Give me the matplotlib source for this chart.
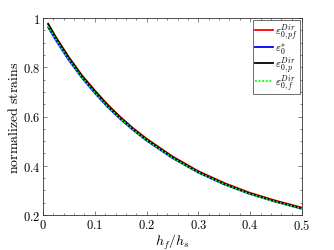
import matplotlib
matplotlib.use("Agg")
import matplotlib.pyplot as plt
from matplotlib.ticker import MultipleLocator

plt.rcParams['mathtext.fontset'] = 'cm'
plt.rcParams['font.family'] = 'serif'
plt.rcParams['font.serif'] = ['DejaVu Serif']

hf_hs = [0.01, 0.025, 0.05, 0.075, 0.10, 0.125, 0.15, 0.175, 0.20, 0.25, 0.30, 0.35, 0.40, 0.45, 0.50]
eps_p = [0.975, 0.92, 0.838, 0.765, 0.703, 0.645, 0.594, 0.548, 0.507, 0.435, 0.375, 0.327, 0.287, 0.255, 0.227]
eps_pf = [0.977, 0.922, 0.841, 0.768, 0.706, 0.648, 0.597, 0.551, 0.510, 0.438, 0.378, 0.330, 0.290, 0.258, 0.230]
eps_star = [0.962, 0.909, 0.828, 0.757, 0.695, 0.638, 0.588, 0.543, 0.502, 0.431, 0.372, 0.324, 0.285, 0.253, 0.225]
eps_f = [0.966, 0.912, 0.831, 0.759, 0.697, 0.640, 0.590, 0.545, 0.504, 0.432, 0.373, 0.325, 0.285, 0.253, 0.225]

labels = [r'$\varepsilon_{0,pf}^{Dir}$', r'$\varepsilon_{0}^{*}$',
          r'$\varepsilon_{0,p}^{Dir}$', r'$\varepsilon_{0,f}^{Dir}$']
xticks = [0, 0.1, 0.2, 0.3, 0.4, 0.5]
xticklabels = ['$0$', '$0.1$', '$0.2$', '$0.3$', '$0.4$', '$0.5$']
yticks = [0.2, 0.4, 0.6, 0.8, 1.0]
yticklabels = ['$0.2$', '$0.4$', '$0.6$', '$0.8$', '$1$']

fig = plt.figure(figsize=(3.34, 2.51), dpi=100)
ax = fig.add_axes([43/334, 1-216/251, (302-43)/334, (216-19)/251])

ax.plot(hf_hs, eps_pf, color='#ff0000', lw=1.3, label=labels[0])
ax.plot(hf_hs, eps_star, color='#0000ff', lw=1.3, label=labels[1])
ax.plot(hf_hs, eps_p, color='black', lw=1.3, label=labels[2])
ax.plot(hf_hs, eps_f, color='#00ff00', lw=1.3, ls=(0, (1, 1)), label=labels[3])

ax.set_xlim(0, 0.5)
ax.set_ylim(0.2, 1.0)
ax.set_xticks(xticks)
ax.set_xticklabels(xticklabels, fontsize=9)
ax.set_yticks(yticks)
ax.set_yticklabels(yticklabels, fontsize=9)
ax.xaxis.set_minor_locator(MultipleLocator(0.02))
ax.yaxis.set_minor_locator(MultipleLocator(0.05))
ax.tick_params(which='both', direction='in', top=True, right=True, width=0.5, color='#555555')
ax.tick_params(which='major', length=3)
ax.tick_params(axis='x', which='major', pad=2)
ax.tick_params(axis='y', which='major', pad=2)
ax.tick_params(which='minor', length=1.5)
for s in ax.spines.values():
    s.set_linewidth(0.6)
    s.set_color('#333333')

ax.set_xlabel(r'$h_f/h_s$', fontsize=10, labelpad=0)
ax.set_ylabel(r'$\mathrm{normalized\ strains}$', fontsize=10, labelpad=1)

leg = ax.legend(loc='upper right', fontsize=8, handlelength=1.6, handletextpad=0.25,
                borderpad=0.15, labelspacing=-0.1, fancybox=False, framealpha=1,
                edgecolor='#555555', borderaxespad=0.2)
leg.get_frame().set_linewidth(0.6)

fig.savefig('out.png', dpi=100)
